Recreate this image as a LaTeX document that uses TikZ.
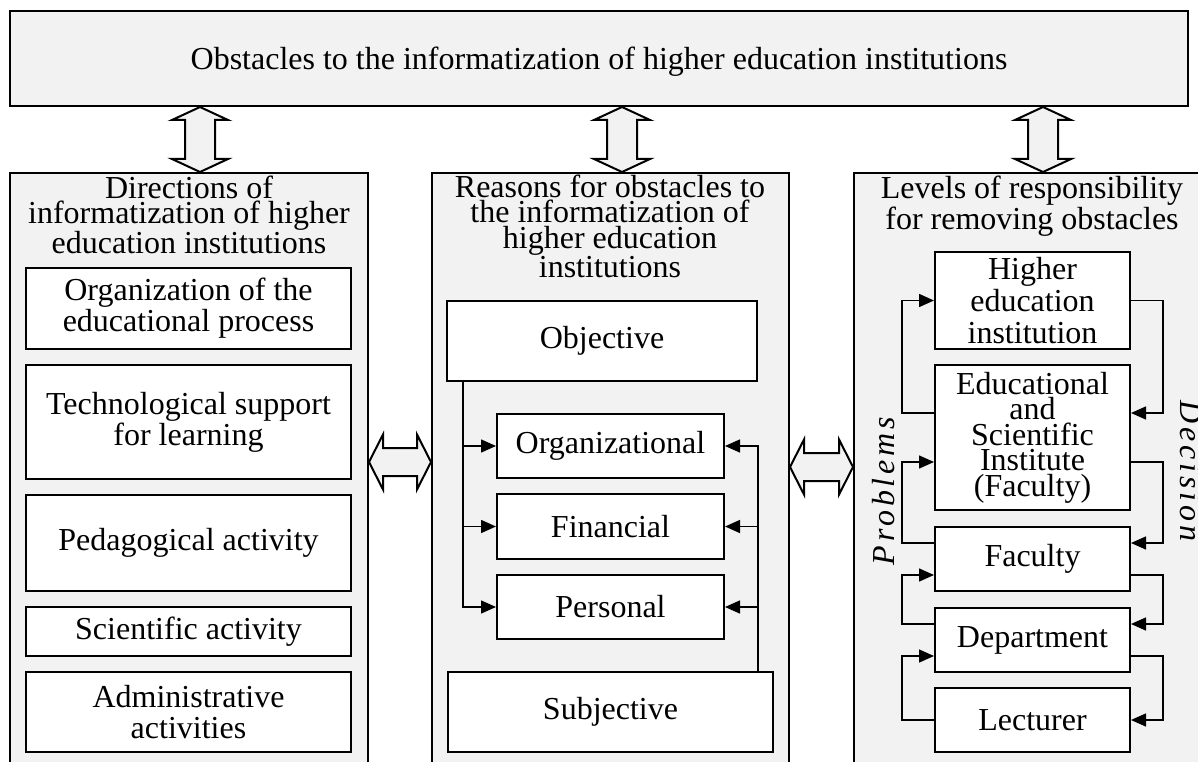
\documentclass[tikz,border=0pt]{standalone}
\usepackage{fontspec}
\setmainfont{Liberation Serif}
\usepackage{tikz}
\usetikzlibrary{arrows.meta}
\definecolor{panelgray}{gray}{0.95}

\begin{document}
\begin{tikzpicture}[x=1pt, y=-1pt,
  every node/.style={font=\fontsize{32}{31}\selectfont},
  panel/.style={draw, line width=2pt, fill=panelgray, inner sep=0pt},
  item/.style={draw, line width=2pt, fill=white, align=center, inner sep=0pt},
  head/.style={align=center, inner sep=0pt, font=\fontsize{32}{25.5}\selectfont},
  turned/.style={inner sep=0pt, font=\fontsize{32}{31}\selectfont\itshape\addfontfeature{LetterSpace=12}},
  flow/.style={line width=1.5pt, -{Triangle[length=15pt,width=13pt]}},
  link/.style={draw, line width=2pt, fill=panelgray, line join=miter}]

  \newcommand\vlink[2]{\draw[link] (#1) -- ++(28,13) -- ++(-13,0) -- ([shift={(15,-13)}]#2) -- ++(13,0)
    -- (#2) -- ++(-28,-13) -- ++(13,0) -- ([shift={(-15,13)}]#1) -- ++(-13,0) -- cycle;}
  \newcommand\hlink[2]{\draw[link] (#1) -- ++(14,-27.5) -- ++(0,13.5) -- ([shift={(-14,-14)}]#2) -- ++(0,-13.5)
    -- (#2) -- ++(-14,27.5) -- ++(0,-13.5) -- ([shift={(14,14)}]#1) -- ++(0,13.5) -- cycle;}

  \useasboundingbox (0,0) rectangle (1198,762);

  %% top
  \node[panel, minimum width=1178pt, minimum height=95pt, text depth=0pt] (obst) at (599,58.5)
    {Obstacles to the informatization of higher education institutions};

  %% three panels
  \node[panel, minimum width=358pt, minimum height=640pt, anchor=north] (dirs) at (189,172) {};
  \node[panel, minimum width=357pt, minimum height=640pt, anchor=north] (reas) at (610.5,172) {};
  \node[panel, minimum width=362pt, minimum height=640pt, anchor=north] (levs) at (1035,172) {};

  \coordinate (tA) at (obst.south -| 200,0);  \coordinate (bA) at (dirs.north -| 200,0);
  \coordinate (tB) at (obst.south -| 622,0);  \coordinate (bB) at (reas.north -| 622,0);
  \coordinate (tC) at (obst.south -| 1043,0); \coordinate (bC) at (levs.north -| 1043,0);
  \coordinate (lD) at (dirs.east |- 0,462);   \coordinate (rD) at (reas.west |- 0,462);
  \coordinate (lE) at (reas.east |- 0,467);   \coordinate (rE) at (levs.west |- 0,467);
  \vlink{tA}{bA}
  \vlink{tB}{bB}
  \vlink{tC}{bC}
  \hlink{lD}{rD}
  \hlink{lE}{rE}

  %% directions
  \node[head] (dirsh) at (189,215) {Directions of\\informatization of higher\\education institutions};
  \node[item, minimum width=325pt, minimum height=81pt] (orgp) at (188.5,308.5) {Organization of the\\educational process};
  \node[item, minimum width=325pt, minimum height=114pt] (tech) at (188.5,422) {Technological support\\for learning};
  \node[item, minimum width=325pt, minimum height=96pt] (peda) at (188.5,543) {Pedagogical activity};
  \node[item, minimum width=325pt, minimum height=49pt] (scie) at (188.5,631.5) {Scientific activity};
  \node[item, minimum width=325pt, minimum height=80pt] (admi) at (188.5,712) {Administrative\\activities};

  %% reasons
  \node[head] (reash) at (610,226) {Reasons for obstacles to\\the informatization of\\higher education\\institutions};
  \node[item, minimum width=310pt, minimum height=80pt] (obj) at (602,341) {Objective};
  \node[item, minimum width=227pt, minimum height=64pt] (orgz) at (610.5,446) {Organizational};
  \node[item, minimum width=227pt, minimum height=65pt] (fin) at (610.5,526.5) {Financial};
  \node[item, minimum width=227pt, minimum height=64pt] (pers) at (610.5,607) {Personal};
  \node[item, minimum width=325pt, minimum height=80pt] (subj) at (610.5,712) {Subjective};

  \draw[flow] ([xshift=17pt]obj.south west) |- (orgz.west);
  \draw[flow] ([xshift=17pt]obj.south west) |- (fin.west);
  \draw[flow] ([xshift=17pt]obj.south west) |- (pers.west);
  \draw[flow] (subj.north -| obj.east) |- (orgz.east);
  \draw[flow] (subj.north -| obj.east) |- (fin.east);
  \draw[flow] (subj.north -| obj.east) |- (pers.east);

  %% levels
  \node[head] (levsh) at (1032,206) {Levels of responsibility\\for removing obstacles};
  \node[item, minimum width=195pt, minimum height=97pt, font=\fontsize{32}{32}\selectfont] (hei) at (1032.5,300.5) {Higher\\education\\institution};
  \node[item, minimum width=195pt, minimum height=145pt, font=\fontsize{32}{25.5}\selectfont] (esi) at (1032.5,437.5) {Educational\\and\\Scientific\\Institute\\(Faculty)};
  \node[item, minimum width=195pt, minimum height=64pt] (fac) at (1032.5,559) {Faculty};
  \node[item, minimum width=195pt, minimum height=64pt] (dep) at (1032.5,640) {Department};
  \node[item, minimum width=195pt, minimum height=64pt] (lec) at (1032.5,720) {Lecturer};

  \node[turned, rotate=90] (prob) at (884,491) {Problems};
  \node[turned, rotate=-90] (deci) at (1191,471) {Decision};

  % problems go up
  \draw[flow] ([yshift=24.5pt]esi.west) -- ++(-32,0) |- (hei.west);
  \draw[flow] ([yshift=16pt]fac.west) -- ++(-32,0) |- ([yshift=-24.5pt]esi.west);
  \draw[flow] ([yshift=16pt]dep.west) -- ++(-32,0) |- ([yshift=-16pt]fac.west);
  \draw[flow] (lec.west) -- ++(-32,0) |- ([yshift=-16pt]dep.west);
  % decisions go down
  \draw[flow] (hei.east) -- ++(32,0) |- ([yshift=24.5pt]esi.east);
  \draw[flow] ([yshift=-24.5pt]esi.east) -- ++(32,0) |- ([yshift=16pt]fac.east);
  \draw[flow] ([yshift=-16pt]fac.east) -- ++(32,0) |- ([yshift=16pt]dep.east);
  \draw[flow] ([yshift=-16pt]dep.east) -- ++(32,0) |- (lec.east);

\end{tikzpicture}
\end{document}
